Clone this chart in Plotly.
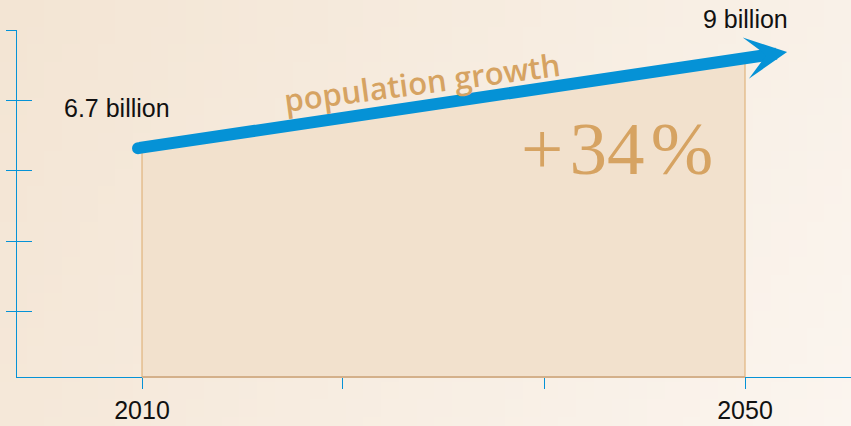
import zlib, struct, base64
import plotly.graph_objects as go

# ---- data ----
years = [2010, 2050]
population = [6.7, 9.0]          # billions
value_labels = ["6.7 billion", "9 billion"]
growth_label = "+\u200a34\u200a%"
arrow_label = "population growth"
x_tick_vals = [2010, 2023.33, 2036.67, 2050]
x_tick_text = ["2010", "", "", "2050"]
y_tick_vals = [2.58, 4.40, 6.22, 8.04, 9.85]

# ---- styling constants ----
BLUE = "#0592d6"
TAN = "#d6a362"
X_RANGE = [2001.708, 2057.03]
Y_RANGE = [0.8863, 9.853]
W, H = 851, 426
ML, MR, MT, MB = 17, 0, 30, 49


def gradient_uri(w=48, h=24):
    tl, tr, bl, br = (243, 229, 212), (249, 241, 232), (245, 232, 217), (251, 245, 239)
    rows = []
    for j in range(h):
        v = j / (h - 1)
        row = bytearray(b"\x00")
        for i in range(w):
            u = i / (w - 1)
            for c in range(3):
                top = tl[c] + (tr[c] - tl[c]) * u
                bot = bl[c] + (br[c] - bl[c]) * u
                row.append(int(round(top + (bot - top) * v)))
        rows.append(bytes(row))
    raw = b"".join(rows)

    def chunk(t, d):
        return struct.pack(">I", len(d)) + t + d + struct.pack(">I", zlib.crc32(t + d) & 0xffffffff)

    png = (b"\x89PNG\r\n\x1a\n" + chunk(b"IHDR", struct.pack(">IIBBBBB", w, h, 8, 2, 0, 0, 0))
           + chunk(b"IDAT", zlib.compress(raw)) + chunk(b"IEND", b""))
    return "data:image/png;base64," + base64.b64encode(png).decode()


pw, ph = W - ML - MR, H - MT - MB

fig = go.Figure()
fig.add_trace(go.Scatter(
    x=[years[0], years[0], years[1], years[1]],
    y=[Y_RANGE[0], population[0], population[1], Y_RANGE[0]],
    fill="toself", fillcolor="#f2e1cd", mode="lines",
    line=dict(color="#dcaa6c", width=1), hoverinfo="skip", showlegend=False,
))
fig.add_trace(go.Scatter(x=[years[0]], y=[population[0]], yaxis="y2", mode="markers",
                         marker=dict(opacity=0), hoverinfo="skip", showlegend=False))

annotations = [
    # arrow
    dict(x=2052.79, y=9.284, ax=2009.735, ay=6.80, xref="x", yref="y", axref="x", ayref="y",
         text="", showarrow=True, arrowhead=3, arrowsize=0.58, arrowwidth=12, arrowcolor=BLUE,
         standoff=0, startstandoff=0, font=dict(size=1)),
    dict(x=2008.31, y=7.837, xref="x", yref="y", text=value_labels[0], showarrow=False,
         xanchor="center", yanchor="middle",
         font=dict(family="Liberation Sans", size=25, color="#111111")),
    dict(x=2050.03, y=1 + 11 / ph, xref="x", yref="paper", text=value_labels[1], showarrow=False,
         xanchor="center", yanchor="middle",
         font=dict(family="Liberation Sans", size=25, color="#111111")),
    dict(x=2041.51, y=6.80, xref="x", yref="y", text=growth_label, showarrow=False,
         xanchor="center", yanchor="middle",
         font=dict(family="Liberation Serif", size=75, color=TAN)),
    dict(x=2028.57, y=8.51, xref="x", yref="y", text=arrow_label, showarrow=False, textangle=-7.5,
         xanchor="center", yanchor="middle",
         font=dict(family="Open Sans", size=31, color=TAN, weight=600)),
]

shapes = [
    dict(type="circle", xref="x", yref="y", xsizemode="pixel", ysizemode="pixel",
         xanchor=2009.735, yanchor=6.80, x0=-6, x1=6, y0=-6, y1=6,
         fillcolor=BLUE, line=dict(width=0)),
    dict(type="line", xref="x", yref="paper", x0=years[0], x1=years[1], y0=0, y1=0,
         line=dict(color="#d4b08a", width=2), layer="above"),
]

fig.update_layout(
    width=W, height=H, margin=dict(l=ML, r=MR, t=MT, b=MB),
    paper_bgcolor="#f6ebdf", plot_bgcolor="rgba(0,0,0,0)",
    showlegend=False, annotations=annotations, shapes=shapes,
    images=[dict(source=gradient_uri(), xref="paper", yref="paper",
                 x=-ML / pw, y=1 + MT / ph, sizex=W / pw, sizey=H / ph,
                 xanchor="left", yanchor="top", sizing="stretch", layer="below")],
    xaxis=dict(range=X_RANGE, tickvals=x_tick_vals, ticktext=x_tick_text,
               showgrid=False, zeroline=False, showline=True, linecolor=BLUE, linewidth=1,
               ticks="outside", ticklen=11, tickcolor=BLUE, tickwidth=1,
               tickfont=dict(family="Liberation Sans", size=25, color="#111111")),
    yaxis=dict(range=Y_RANGE, tickvals=y_tick_vals, showticklabels=False,
               showgrid=False, zeroline=False, showline=True, linecolor=BLUE, linewidth=1,
               ticks="outside", ticklen=10, tickcolor=BLUE, tickwidth=1),
    yaxis2=dict(range=Y_RANGE, tickvals=y_tick_vals, showticklabels=False, overlaying="y",
                side="left", anchor="x", showgrid=False, zeroline=False, showline=False,
                ticks="inside", ticklen=15, tickcolor=BLUE, tickwidth=1),
)

fig.write_html("out.html", config={"displayModeBar": False},
               post_script="document.body.style.margin='0';document.body.style.background='#f6ebdf';")
